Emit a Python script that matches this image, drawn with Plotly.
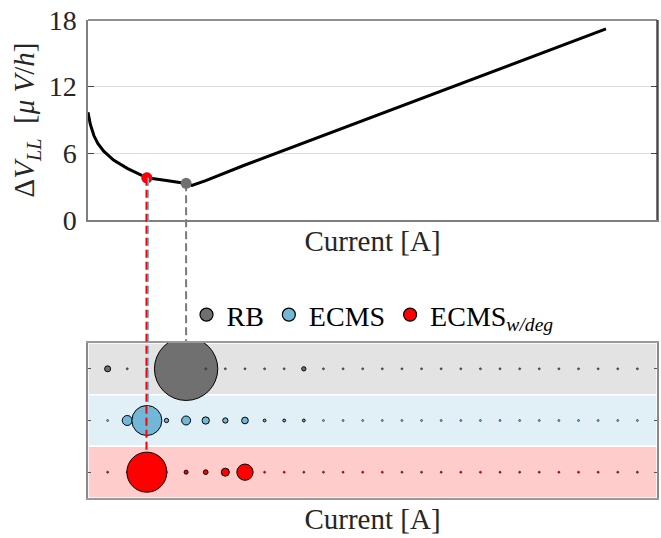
import plotly.graph_objects as go
import math

# ---------------- data ----------------
# top panel: degradation rate vs current (current expressed as operating-point index)
curve_x = [0, 0.12, 0.3, 0.5, 0.8, 1.3, 2.0, 3.0, 4.0, 5.0, 5.3, 6.0, 8.0, 12, 16, 20, 24, 26.4]
curve_y = [9.7, 8.6, 7.6, 6.9, 6.2, 5.4, 4.65, 3.8, 3.55, 3.28, 3.12, 3.55, 4.95, 7.6, 10.25, 12.9, 15.6, 17.2]

# most used operating point of each strategy on the curve
strategies = ["RB", "ECMS", "ECMS<sub><i>w/deg</i></sub>"]
op_x = [5, 3, 3]
op_y = [3.3, 3.8, 3.8]

# bottom panel: share of time spent at each current level (index 1..28)
current_idx = list(range(1, 29))
share_rb = [0.9, 0, 0, 0, 100, 0, 0, 0, 0, 0, 0.46, 0, 0, 0,
            0, 0, 0, 0, 0, 0, 0, 0, 0, 0, 0, 0, 0, 0]
share_ecms = [0, 2.5, 22.5, 0.46, 2.0, 1.33, 0.7, 1.12, 0.2, 0.2, 0.2, 0, 0, 0,
              0, 0, 0, 0, 0, 0, 0, 0, 0, 0, 0, 0, 0, 0]
share_deg = [0, 0, 40, 0, 0.4, 0.55, 1.6, 6.6, 0, 0, 0, 0, 0, 0,
             0, 0, 0, 0, 0, 0, 0, 0, 0, 0, 0, 0, 0, 0]
row_pos = [3, 2, 1]

y_ticks = [0, 6, 12, 18]

# ---------------- styles ----------------
colors = ["#707070", "#72b6d8", "#ff0000"]
band_colors = ["#e3e3e3", "#e1eff6", "#ffcccc"]
FONT = "Liberation Serif"
FS_TICK = 28
FS_TITLE = 29
FS_LEG = 28
K = 6.33      # px per sqrt(share)
DMIN = 2.0

top_dom = [0.5816, 1.0]
bot_dom = [0.0, 0.3243]
x_range = [0, 29]
y_range = [0, 18]
y2_range = [0.5, 3.5]

fig = go.Figure()

# curve
fig.add_trace(go.Scatter(x=curve_x, y=curve_y, mode="lines",
                         line=dict(color="black", width=3), showlegend=False,
                         xaxis="x", yaxis="y", hoverinfo="skip"))

# bubbles
shares = [share_rb, share_ecms, share_deg]
for name, s, r, c in zip(strategies, shares, row_pos, colors):
    sizes = [max(K * math.sqrt(v), DMIN) for v in s]
    lw = [1.0 if v > 0 else 0.5 for v in s]
    fig.add_trace(go.Scatter(x=current_idx, y=[r] * len(current_idx), mode="markers",
                             marker=dict(size=sizes, color=c, sizemode="diameter", opacity=1,
                                         line=dict(color="black", width=lw)),
                             showlegend=False, xaxis="x2", yaxis="y2", hoverinfo="skip"))

# operating points on curve (blue under red)
for i in [0, 1, 2]:
    fig.add_trace(go.Scatter(x=[op_x[i]], y=[op_y[i]], mode="markers",
                             marker=dict(size=11, color=colors[i], opacity=1),
                             showlegend=False, xaxis="x", yaxis="y", hoverinfo="skip"))

# legend-only traces
for name, c in zip(strategies, colors):
    fig.add_trace(go.Scatter(x=[None], y=[None], mode="markers", name=name,
                             marker=dict(size=13, color=c, opacity=1,
                                         line=dict(color="black", width=1.2)),
                             xaxis="x", yaxis="y"))

def top_paper(v):
    return top_dom[0] + (v - y_range[0]) / (y_range[1] - y_range[0]) * (top_dom[1] - top_dom[0])

def bot_paper(v):
    return bot_dom[0] + (v - y2_range[0]) / (y2_range[1] - y2_range[0]) * (bot_dom[1] - bot_dom[0])

shapes = []
# bands
for r, bc in zip(row_pos, band_colors):
    shapes.append(dict(type="rect", xref="x2 domain", yref="y2", x0=0, x1=1,
                       y0=r - 0.5, y1=r + 0.5, fillcolor=bc,
                       line=dict(color="white", width=1.5), layer="below"))
# connector lines (grey under its bubble; blue slightly offset so it shows beside red)
offs = [0.0, 0.06, -0.02]
layers = ["below", "above", "above"]
line_cols = ["#7a7a7a", colors[1], colors[2]]
for i in [0, 1, 2]:
    shapes.append(dict(type="line", xref="x", yref="paper",
                       x0=op_x[i] + offs[i], x1=op_x[i] + offs[i],
                       y0=top_paper(op_y[i]), y1=bot_paper(row_pos[i]),
                       line=dict(color=line_cols[i], width=2, dash="8px,4px"),
                       layer=layers[i]))
# black box top/right of top panel
shapes.append(dict(type="line", xref="x domain", yref="y domain", x0=0, x1=1, y0=1, y1=1,
                   line=dict(color="#222", width=1.2)))
shapes.append(dict(type="line", xref="x domain", yref="y domain", x0=1, x1=1, y0=0, y1=1,
                   line=dict(color="#222", width=1.2)))

fig.update_layout(
    width=661, height=538,
    margin=dict(l=88, r=4, t=20, b=40),
    paper_bgcolor="white", plot_bgcolor="rgba(0,0,0,0)",
    font=dict(family=FONT, size=FS_TICK, color="#262626"),
    shapes=shapes,
    showlegend=True,
    legend=dict(orientation="h", x=0.5, xanchor="center", y=0.383, yanchor="middle",
                bgcolor="rgba(0,0,0,0)", font=dict(size=FS_LEG, color="black"),
                itemclick=False),
    xaxis=dict(domain=[0, 1], anchor="y", range=x_range, showticklabels=False,
               ticks="", showgrid=False, zeroline=False, showline=True, automargin=False,
               linecolor="#7f7f7f", linewidth=2,
               title=dict(text="Current [A]", standoff=10, font=dict(size=FS_TITLE))),
    yaxis=dict(domain=top_dom, anchor="x", range=y_range, tickvals=y_ticks,
               ticks="inside", ticklen=6, tickcolor="#444", mirror="ticks", automargin=False,
               showline=True, linecolor="#7f7f7f", linewidth=1.5,
               showgrid=True, gridcolor="#dddddd", gridwidth=1, zeroline=False,
               ticklabelstandoff=4, tickfont=dict(size=FS_TICK),
               title=dict(text="Δ<i>V</i><sub><i>LL</i></sub>  [<i>μ</i> <i>V</i>/<i>h</i>]",
                          standoff=5, font=dict(size=FS_TITLE))),
    xaxis2=dict(domain=[0, 1], anchor="y2", range=x_range, showticklabels=False,
                ticks="", showgrid=False, zeroline=False, showline=True, mirror=True,
                automargin=False, linecolor="#9a9a9a", linewidth=1.5,
                title=dict(text="Current [A]", standoff=10, font=dict(size=FS_TITLE))),
    yaxis2=dict(domain=bot_dom, anchor="x2", range=y2_range, tickvals=row_pos,
                showticklabels=False, ticks="inside", ticklen=3, tickcolor="#555",
                mirror="ticks", showline=True, linecolor="#8a8a8a", linewidth=1.5,
                automargin=False, showgrid=False, zeroline=False),
)

fig.write_html("out.html", config={"displayModeBar": False},
               post_script="document.body.style.margin='0';document.body.style.overflow='hidden';")
